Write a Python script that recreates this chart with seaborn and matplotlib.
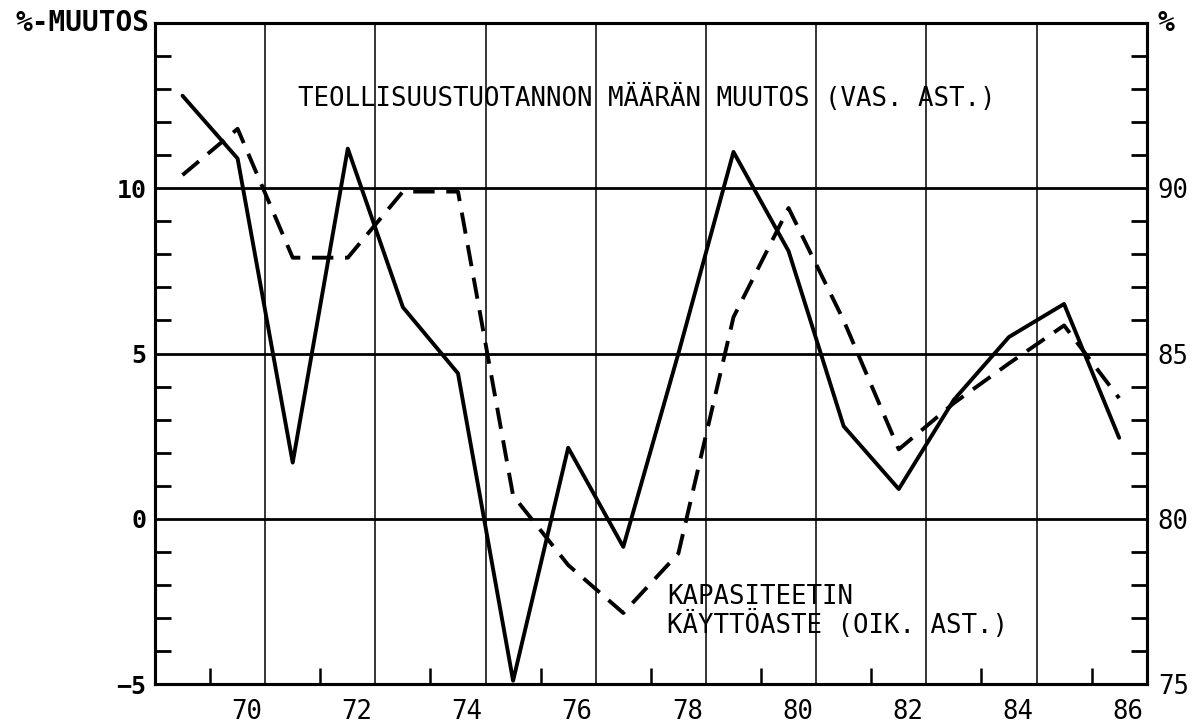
"""
Teollisuustuotannon määrän muutos ja kapasiteetin käyttöaste 1969-1986
"""

import matplotlib
matplotlib.use("Agg")
import matplotlib.pyplot as plt
import seaborn as sns
from matplotlib.ticker import FixedLocator, MultipleLocator
from matplotlib.transforms import ScaledTranslation

# data (luettu kuvasta)
years = list(range(1969, 1987))
tuotanto_muutos = [12.8, 10.9, 1.7, 11.2, 6.4, 4.4, -4.9, 2.15, -0.85, 5.0,
                   11.1, 8.1, 2.8, 0.9, 3.6, 5.5, 6.5, 2.45]          # vas. ast.
kayttoaste = [90.4, 91.8, 87.9, 87.9, 89.9, 89.9, 80.7, 78.6, 77.15, 78.95,
              86.1, 89.4, 86.0, 82.1, 83.5, 84.7, 85.85, 83.65]       # oik. ast.

x_labels = ['70', '72', '74', '76', '78', '80', '82', '84', '86']
left_labels = [-5, 0, 5, 10]
right_labels = [75, 80, 85, 90]

sns.set_style("white")
plt.rcParams['font.family'] = ['DejaVu Sans Mono', 'DejaVu Sans']
plt.rcParams['text.color'] = 'black'
plt.rcParams['xtick.color'] = 'black'
plt.rcParams['ytick.color'] = 'black'
plt.rcParams['axes.labelcolor'] = 'black'

fig = plt.figure(figsize=(11.92, 7.24), dpi=100)
ax = fig.add_axes([0.130, 0.0552, 0.832, 0.9130])
ax2 = ax.twinx()

# viivat
sns.lineplot(x=years, y=tuotanto_muutos, ax=ax, color='black', lw=2.8)
sns.lineplot(x=years, y=kayttoaste, ax=ax2, color='black', lw=2.8)
ax2.lines[-1].set_dashes((5.5, 3))

ax.set_xlim(years[0] - 0.5, years[-1] + 0.5)
ax.set_ylim(-5, 15)
ax2.set_ylim(75, 95)

# ruudukko
for b in range(years[0] + 1, years[-1] - 1, 2):
    ax.axvline(b + 0.5, color='black', lw=1.1, zorder=0)
for v in left_labels[1:]:
    ax.axhline(v, color='black', lw=2.0, zorder=0)

# x-akseli
ax.xaxis.set_major_locator(FixedLocator([1900 + int(s) for s in x_labels]))
ax.set_xticklabels(x_labels)
ax.xaxis.set_minor_locator(FixedLocator([y + 0.5 for y in years[:-1:2]]))
ax.tick_params(axis='x', which='major', length=0, pad=11, labelsize=18.5,
               labelcolor='black')
ax.tick_params(axis='x', which='minor', direction='in', length=11.5, width=1.8,
               bottom=True, top=False)
for lab in ax.get_xticklabels():
    lab.set_transform(lab.get_transform() + ScaledTranslation(0.09, 0, fig.dpi_scale_trans))

# y-akselit
ax.yaxis.set_major_locator(FixedLocator(left_labels))
ax.yaxis.set_minor_locator(MultipleLocator(1))
ax.tick_params(axis='y', which='major', length=0, pad=6, labelsize=18, labelcolor='black')
ax.tick_params(axis='y', which='minor', direction='in', length=11.5, width=2.0, left=True)
for lab in ax.get_yticklabels():
    lab.set_fontweight('bold')

ax2.yaxis.set_major_locator(FixedLocator(right_labels))
ax2.yaxis.set_minor_locator(MultipleLocator(1))
ax2.tick_params(axis='y', which='major', length=0, pad=8, labelsize=18.5, labelcolor='black')
ax2.tick_params(axis='y', which='minor', direction='in', length=11.5, width=2.0, right=True)

for a in (ax, ax2):
    for s in a.spines.values():
        s.set_linewidth(2.2)
        s.set_color('black')
    a.set_xlabel('')
    a.set_ylabel('')

# tekstit
ax.text(-0.006, 1.0, '%-MUUTOS', transform=ax.transAxes, ha='right', va='center',
        fontsize=20, fontweight='bold', color='black')
ax.text(1.011, 1.0, '%', transform=ax.transAxes, ha='left', va='center',
        fontsize=20, fontweight='bold', color='black')
ax.text(1971.1, 12.72, 'TEOLLISUUSTUOTANNON MÄÄRÄN MUUTOS (VAS. AST.)',
        ha='left', va='center', fontsize=18.5, color='black')
ax.text(1977.8, -2.8, 'KAPASITEETIN\nKÄYTTÖASTE (OIK. AST.)',
        ha='left', va='center', fontsize=18.5, linespacing=1.0, color='black')

fig.savefig('out.png', dpi=100)
